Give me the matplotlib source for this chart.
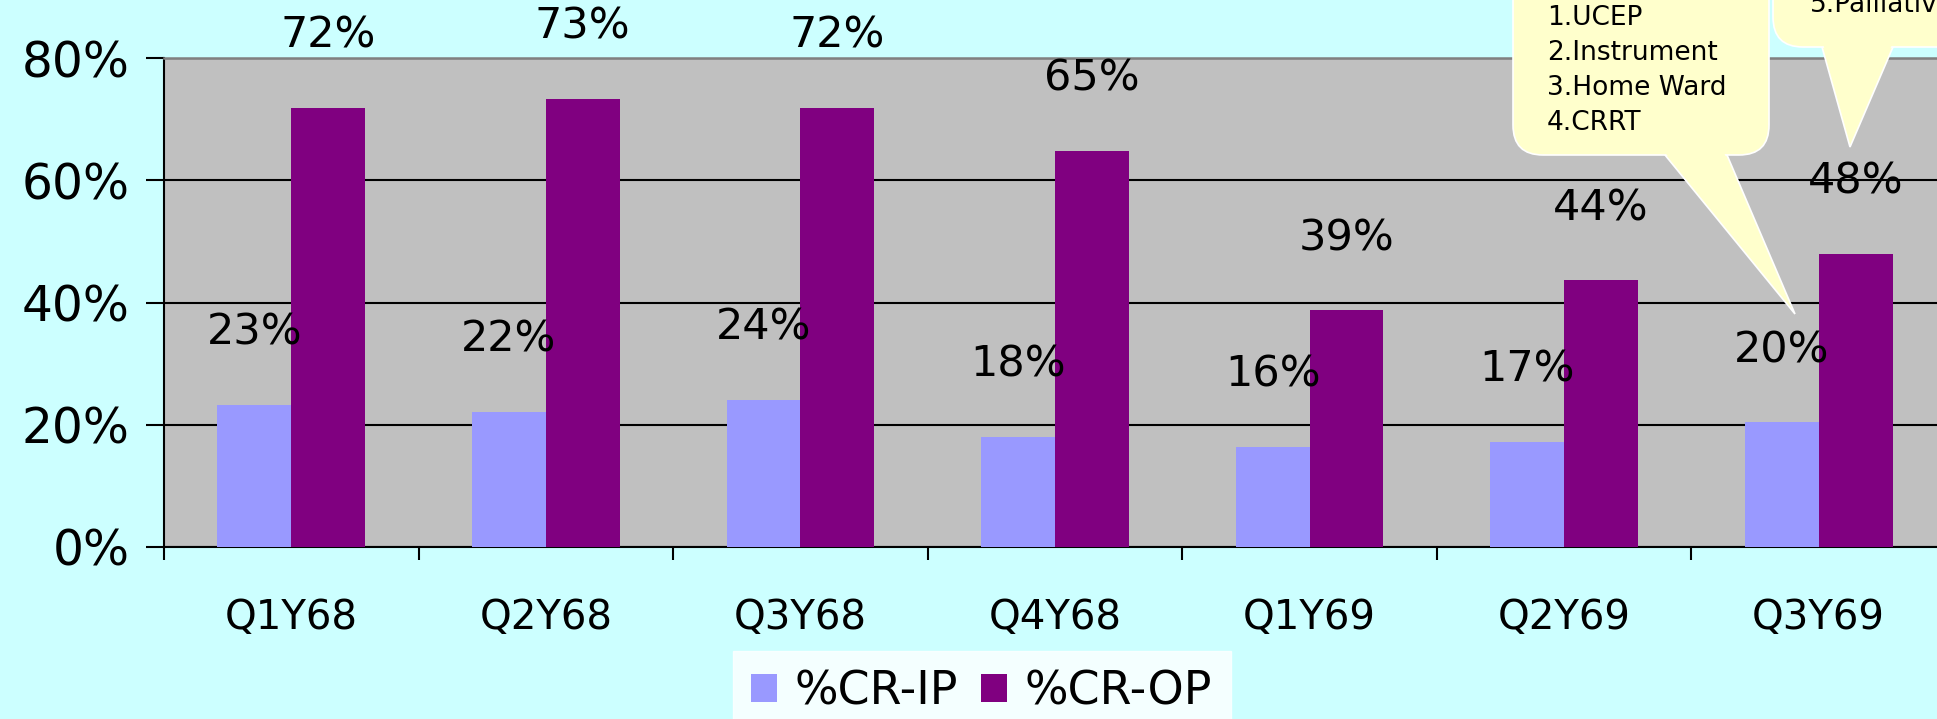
import numpy as np
import matplotlib
matplotlib.use("Agg")
import matplotlib.pyplot as plt
from matplotlib.patches import FancyBboxPatch, Polygon
from matplotlib.transforms import Affine2D

# data
quarters = ["Q1Y68", "Q2Y68", "Q3Y68", "Q4Y68", "Q1Y69", "Q2Y69", "Q3Y69"]
cr_ip = [23.3, 22.1, 24.1, 18.0, 16.4, 17.2, 20.4]
cr_op = [71.9, 73.3, 71.9, 64.8, 38.7, 43.6, 48.0]
series_names = ["%CR-IP", "%CR-OP"]
yticks = [0, 20, 40, 60, 80]
callout_1 = ["1.UCEP", "2.Instrument", "3.Home Ward", "4.CRRT"]
callout_2 = ["5.Palliative"]

W, H = 1937, 719
BG = "#CCFFFF"
PLOT_BG = "#C0C0C0"
C_IP = "#9999FF"
C_OP = "#800080"
NOTE = "#FFFFCC"

fig = plt.figure(figsize=(W / 100, H / 100), dpi=100)
fig.patch.set_facecolor(BG)

left, right, top, bottom = 164, 1946, 58, 547
ax = fig.add_axes([left / W, 1 - bottom / H, (right - left) / W, (bottom - top) / H])
ax.set_facecolor(PLOT_BG)

x = np.arange(len(quarters)) + 0.5
bw = 0.29
b1 = ax.bar(x - bw / 2, cr_ip, bw, color=C_IP, label=series_names[0], zorder=3)
b2 = ax.bar(x + bw / 2, cr_op, bw, color=C_OP, label=series_names[1], zorder=3)

for bars, vals in ((b1, cr_ip), (b2, cr_op)):
    for r, v in zip(bars, vals):
        ax.annotate(f"{round(v):.0f}%", xy=(r.get_x() + r.get_width() / 2, v),
                    xytext=(0, 72), textcoords="offset pixels",
                    ha="center", va="center", fontsize=31, zorder=4,
                    annotation_clip=False)

ax.set_xlim(0, len(quarters))
ax.set_ylim(0, 80)
ax.set_yticks(yticks)
ax.set_yticklabels([f"{t}%" for t in yticks], fontsize=35)
ax.yaxis.grid(True, color="black", linewidth=1.5, zorder=1)
ax.set_axisbelow(True)

ax.set_xticks(np.arange(len(quarters) + 1))
ax.set_xticklabels([])
ax.set_xticks(x, minor=True)
ax.set_xticklabels(quarters, minor=True, fontsize=29)
ax.tick_params(axis="x", which="major", direction="out", length=9, width=1.5)
ax.tick_params(axis="x", which="minor", length=0, pad=37)
ax.tick_params(axis="y", direction="out", length=13, width=1.5, pad=12)

for s in ("left", "bottom"):
    ax.spines[s].set_linewidth(1.5)
    ax.spines[s].set_color("black")
ax.spines["top"].set_color("#808080")
ax.spines["top"].set_linewidth(1.8)
ax.spines["right"].set_visible(False)

leg = fig.legend(handles=[b1, b2], loc="upper left",
                 bbox_to_anchor=(733 / W, 1 - 651 / H), ncol=2, fontsize=33,
                 frameon=True, fancybox=False, borderpad=0.4,
                 handlelength=0.55, handleheight=0.55, handletextpad=0.4,
                 columnspacing=0.5, borderaxespad=0)
leg.get_frame().set_facecolor("white")
leg.get_frame().set_edgecolor("white")

# callouts drawn in image pixel coordinates (y downward)
px = Affine2D().scale(1 / W, -1 / H).translate(0, 1) + fig.transFigure

def callout(x0, x1, y1, base_l, base_r, tip, lines, tx, ty0):
    slope_l = (tip[0] - base_l) / (tip[1] - y1)
    slope_r = (tip[0] - base_r) / (tip[1] - y1)
    d = 15
    fig.add_artist(Polygon([(base_l - slope_l * d, y1 - d), (base_r - slope_r * d, y1 - d), tip],
                           closed=True, facecolor=NOTE, edgecolor="white",
                           linewidth=1.2, transform=px, zorder=6))
    fig.add_artist(FancyBboxPatch((x0, -60), x1 - x0, y1 + 60,
                                  boxstyle="round,pad=0,rounding_size=30",
                                  facecolor=NOTE, edgecolor="white", linewidth=1.2,
                                  transform=px, zorder=6))
    a, b = -5, 7
    fig.add_artist(Polygon([(base_l + slope_l * a + 2, y1 + a), (base_r + slope_r * a - 2, y1 + a),
                            (base_r + slope_r * b - 2, y1 + b), (base_l + slope_l * b + 2, y1 + b)],
                           closed=True, facecolor=NOTE, edgecolor="none",
                           transform=px, zorder=6.5))
    for i, t in enumerate(lines):
        fig.text(tx, ty0 + 35 * i, t, transform=px, fontsize=19,
                 ha="left", va="baseline", zorder=7)

callout(1513, 1769, 155, 1665, 1727, (1795, 314), callout_1, 1547, 25)
callout(1773, 2000, 47, 1822, 1893, (1850, 147), callout_2, 1810, 12)

fig.savefig("out.png", dpi=100, facecolor=BG)
